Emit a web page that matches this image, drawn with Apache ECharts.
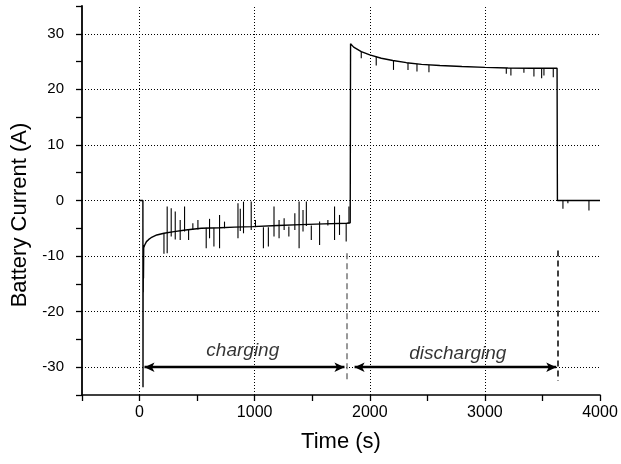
<!DOCTYPE html>
<html>
<head>
<meta charset="utf-8">
<script src="https://cdn.jsdelivr.net/npm/echarts@6/dist/echarts.min.js"></script>
<style>html,body{margin:0;padding:0;background:#fff;}#c{width:621px;height:464px;}</style>
</head>
<body>
<div id="c"></div>
<script>
// ---- data ----
const xTicks = [0, 1000, 2000, 3000, 4000];
const yTicks = [-30, -20, -10, 0, 10, 20, 30];
const xGrid = [0, 1000, 2000, 3000];

// baseline current trace [time s, current A]
const currentBase = [
  [0, 0], [29, 0], [30, -33.6], [31, -12], [32, -16.5], [33, -8], [34, -14], [36, -8.5],
  [45, -8.0], [60, -7.4], [80, -7.0], [100, -6.7], [150, -6.2], [212, -5.9], [300, -5.6],
  [400, -5.3], [536, -5.0], [700, -4.9], [825, -4.8], [983, -4.7], [1200, -4.5],
  [1400, -4.35], [1600, -4.2], [1800, -4.1], [1830, -4.0], [1833, 28.2], [1860, 27.6],
  [1926, 26.8], [2000, 26.2], [2100, 25.6], [2200, 25.2], [2319, 24.8], [2450, 24.5],
  [2609, 24.3], [2800, 24.1], [3000, 23.95], [3200, 23.85], [3400, 23.8], [3627, 23.8],
  [3630, 0], [4000, 0]
];

// spikes [time s, upper A, lower A]
const spikes = [
  [212, -5.9, -9.6], [240, -1.1, -9.5], [275, -1.4, -6.5], [310, -2.0, -7.0], [353, -3.5, -7.1],
  [391, -1.1, -5.6], [426, -5.2, -7.1], [463, -4.1, -5.3], [507, -3.5, -5.2], [579, -4.9, -8.6],
  [608, -3.3, -6.8], [646, -4.9, -8.3], [695, -2.6, -8.6], [738, -3.8, -5.0], [855, -0.5, -6.8],
  [875, -1.5, -5.5], [903, -0.2, -5.9], [970, -0.2, -5.3], [1007, -3.5, -4.8], [1076, -4.8, -8.6],
  [1119, -4.8, -8.3], [1168, -1.1, -6.5], [1212, -3.5, -6.8], [1256, -3.2, -5.3], [1297, -4.7, -6.5],
  [1349, -2.3, -5.3], [1386, -0.2, -8.6], [1420, -1.7, -5.6], [1449, -0.2, -4.6], [1492, -4.5, -7.1],
  [1564, -3.8, -8.0], [1636, -3.5, -4.5], [1694, -1.1, -7.1], [1737, -2.6, -6.2], [1795, -4.2, -7.4],
  [1819, -1.1, -4.2],
  [1926, 26.8, 25.6], [2056, 25.9, 24.3], [2206, 25.2, 23.5], [2332, 24.8, 23.5], [2410, 24.6, 23.2],
  [2514, 24.4, 23.1], [3186, 23.85, 22.8], [3226, 23.85, 22.5], [3339, 23.8, 23.0], [3426, 23.8, 22.3],
  [3493, 23.8, 22.0], [3513, 23.8, 22.5], [3594, 23.8, 22.2],
  [3678, 0, -1.5], [3721, 0, -0.5], [3904, 0, -1.8]
];

// annotations
const phaseLabels = [['charging', 897, -27.0], ['discharging', 2765, -27.5]];
const phaseArrows = [[43, 1780, -30], [1868, 3620, -30]];
const phaseMarkers = [[1804, -9.5, -32.7, '#777'], [3635, -9.0, -32.5, '#000']];

const FONT = '"Liberation Sans", Arial, Helvetica, sans-serif';

const chart = echarts.init(document.getElementById('c'), null, {renderer: 'canvas'});
chart.setOption({
  animation: false,
  backgroundColor: '#fff',
  grid: {left: 82, right: 21, top: 6, bottom: 69, containLabel: false},
  xAxis: {
    type: 'value', min: -500, max: 4000, interval: 500,
    axisLine: {show: true, onZero: false, lineStyle: {color: '#000', width: 1.6}},
    axisTick: {show: true, inside: false, length: 6, lineStyle: {color: '#000', width: 1.3}},
    axisLabel: {
      margin: 10, color: '#000', fontSize: 16, fontFamily: FONT,
      formatter: v => (xTicks.indexOf(v) >= 0 ? String(v) : '')
    },
    splitLine: {show: false}
  },
  yAxis: {
    type: 'value', min: -35, max: 35, interval: 5,
    axisLine: {show: true, onZero: false, lineStyle: {color: '#000', width: 1.8}},
    axisTick: {show: true, inside: false, length: 6, lineStyle: {color: '#000', width: 1.3}},
    axisLabel: {
      margin: 18, color: '#000', fontSize: 15, fontFamily: FONT,
      formatter: v => (yTicks.indexOf(v) >= 0 ? String(v) : '')
    },
    splitLine: {show: false}
  },
  graphic: [
    {type: 'text', x: 20, y: 215, rotation: Math.PI / 2,
     style: {text: 'Battery Current (A)', font: '22px ' + FONT, fill: '#000',
             textAlign: 'center', textVerticalAlign: 'middle', align: 'center', verticalAlign: 'middle'}},
    {type: 'text', x: 341, y: 442,
     style: {text: 'Time (s)', font: '22px ' + FONT, fill: '#000',
             textAlign: 'center', textVerticalAlign: 'middle', align: 'center', verticalAlign: 'middle'}}
  ],
  series: [
    {
      name: 'grid', type: 'line', data: [], z: 1, silent: true,
      markLine: {
        silent: true, symbol: 'none', animation: false,
        label: {show: false},
        lineStyle: {color: '#000', width: 1, type: [1, 2]},
        data: yTicks.map(v => ({yAxis: v})).concat(xGrid.map(v => ({xAxis: v})))
      }
    },
    {
      name: 'current', type: 'line', data: currentBase, showSymbol: false, symbol: 'none',
      z: 3, lineStyle: {color: '#000', width: 1.4}, itemStyle: {color: '#000'}
    },
    {
      name: 'spikes', type: 'custom', data: spikes, z: 3,
      encode: {x: 0, y: [1, 2]},
      renderItem: function (params, api) {
        const p1 = api.coord([api.value(0), api.value(1)]);
        const p2 = api.coord([api.value(0), api.value(2)]);
        return {type: 'line', shape: {x1: p1[0], y1: p1[1], x2: p2[0], y2: p2[1]},
                style: {stroke: '#000', lineWidth: 1.1}};
      }
    },
    {
      name: 'arrows', type: 'line', data: [], z: 4, silent: true,
      markLine: {
        silent: true, symbol: ['arrow', 'arrow'], symbolSize: [7, 10], animation: false,
        label: {show: false},
        lineStyle: {color: '#000', width: 2.4, type: 'solid'},
        data: phaseArrows.map(a => [{coord: [a[0], a[2]]}, {coord: [a[1], a[2]]}])
      }
    },
    {
      name: 'markers', type: 'line', data: [], z: 4, silent: true,
      markLine: {
        silent: true, symbol: 'none', animation: false,
        label: {show: false},
        data: phaseMarkers.map(m => [
          {coord: [m[0], m[1]], lineStyle: {color: m[3], width: 1.5, type: [6, 4]}},
          {coord: [m[0], m[2]]}
        ])
      }
    },
    {
      name: 'labels', type: 'scatter', z: 5, silent: true,
      data: phaseLabels.map(l => ({name: l[0], value: [l[1], l[2]]})),
      symbol: 'circle', symbolSize: 1, itemStyle: {color: 'rgba(0,0,0,0)'},
      label: {show: true, position: 'inside', formatter: p => p.name, color: '#000',
              fontSize: 19, fontStyle: 'italic', fontFamily: FONT}
    }
  ]
});
</script>
</body>
</html>
